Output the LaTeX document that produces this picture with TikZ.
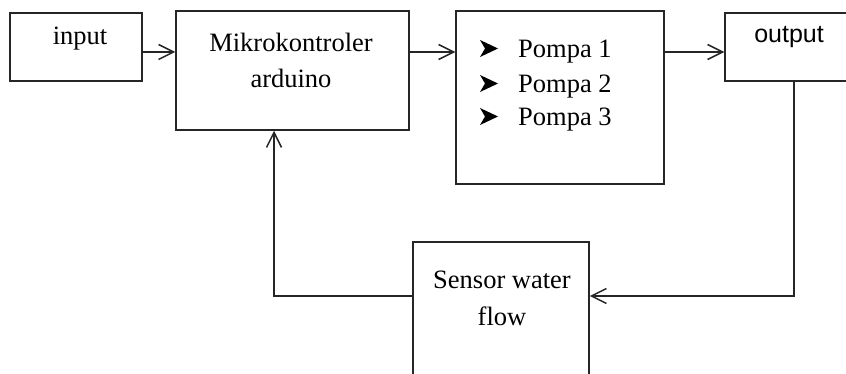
\documentclass[tikz,border=0pt]{standalone}
\usepackage{fontspec}
\setmainfont{Liberation Serif}
\newfontfamily\outfont{Liberation Sans}
\usetikzlibrary{arrows.meta}
\begin{document}
\begin{tikzpicture}[x=1pt,y=-1pt,
  box/.style={draw=black!85,line width=1.5pt,minimum width=#1,inner sep=0pt},
  txt/.style={inner sep=0pt,font=\fontsize{26.5}{30}\selectfont},
  otxt/.style={inner sep=0pt,font=\outfont\fontsize{25}{30}\selectfont},
  arr/.style={draw=black!85,line width=1.5pt,-{Straight Barb[length=15pt,width=15pt,line width=1.5pt]}},
  conn/.style={draw=black!85,line width=1.5pt},
  bul/.style={fill=black}]
\clip (0,0) rectangle (846,374);
\useasboundingbox (0,0) rectangle (846,374);
\fill[white] (0,0) rectangle (846,374);
% boxes
\node[box=132pt,minimum height=68pt] (input) at (76,47) {};
\node[box=233pt,minimum height=119pt] (mikro) at (292.5,70.5) {};
\node[box=208pt,minimum height=173pt] (pompa) at (560,97.5) {};
\node[box=145pt,minimum height=68pt] (output) at (797.5,47) {};
\node[box=176pt,minimum height=158pt] (sensor) at (501,321) {};
% texts
\node[txt,anchor=base] (tin) at (80,45) {input};
\node[txt,anchor=base] (tm1) at (291,52) {Mikrokontroler};
\node[txt,anchor=base] (tm2) at (291,88) {arduino};
\node[txt,anchor=base west] (tp1) at (518,58) {Pompa 1};
\node[txt,anchor=base west] (tp2) at (518,93) {Pompa 2};
\node[txt,anchor=base west] (tp3) at (518,126) {Pompa 3};
\node[otxt,anchor=base] (tout) at (789,43) {output};
\node[txt,anchor=base] (ts1) at (502,288) {Sensor water};
\node[txt,anchor=base] (ts2) at (502,325) {flow};
% bullets
\foreach \yy in {57,92,125}{
  \fill[bul] (480,\yy-17) -- (498,\yy-8.5) -- (480,\yy) -- (485,\yy-8.5) -- cycle;
}
% connectors
\draw[arr] (input.east |- 0,52) -- (mikro.west |- 0,52);
\draw[arr] (mikro.east |- 0,52) -- (pompa.west |- 0,52);
\draw[arr] (pompa.east |- 0,52) -- (output.west |- 0,52);
\draw[arr] (794,0 |- output.south) -- (794,296) -- (sensor.east |- 0,296);
\draw[arr] (sensor.west |- 0,296) -- (274,296) -- (274,0 |- mikro.south);
\end{tikzpicture}
\end{document}
